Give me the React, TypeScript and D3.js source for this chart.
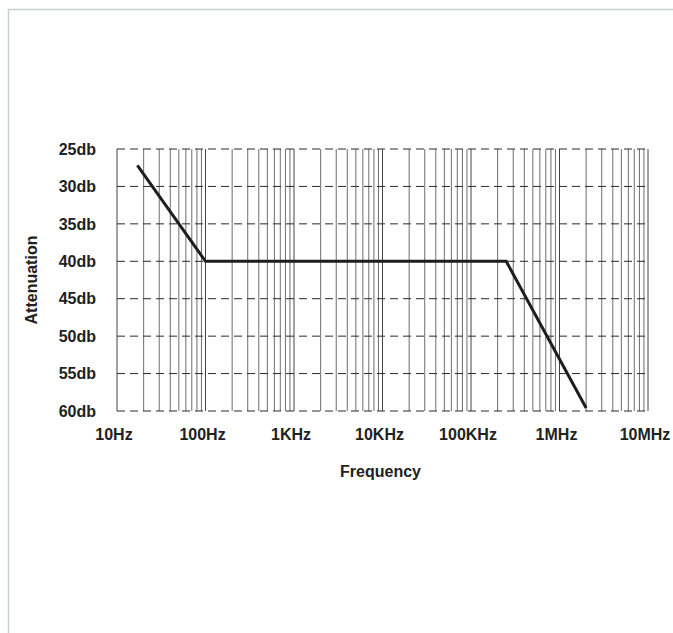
import React from "react";
import * as d3 from "d3";

const freqs = [17, 100, 250000, 2000000];
const attenuation = [27.2, 40, 40, 59.6];
const yTicks = [25, 30, 35, 40, 45, 50, 55, 60];
const xTickValues = [10, 100, 1000, 10000, 100000, 1000000, 10000000];
const xTickLabels = ["10Hz", "100Hz", "1KHz", "10KHz", "100KHz", "1MHz", "10MHz"];

const W = 673;
const H = 633;
const left = 117;
const right = 648;
const top = 149;
const bottom = 411;

export default function App() {
  const x = d3.scaleLog().domain([10, 10000000]).range([left, right]);
  const y = d3.scaleLinear().domain([25, 60]).range([top, bottom]);

  const minor: number[] = [];
  for (let e = 1; e <= 6; e++) {
    for (let m = 2; m <= 9; m++) minor.push(m * Math.pow(10, e));
  }

  const line = d3
    .line<number>()
    .x((_, i) => x(freqs[i]))
    .y((d) => y(d));

  const font = "'Liberation Sans', Arial, Helvetica, sans-serif";

  return (
    <svg
      width={W}
      height={H}
      style={{ position: "fixed", left: 0, top: 0, background: "#fff" }}
      fontFamily={font}
    >
      <rect x={0} y={0} width={W} height={H} fill="#fff" />
      <rect x={8.5} y={9.5} width={800} height={800} fill="none" stroke="#c3d1d4" strokeWidth={1.5} />

      {minor.map((v, i) => (
        <line key={"mn" + i} x1={x(v)} x2={x(v)} y1={top} y2={bottom} stroke="#6e6e6e" strokeWidth={1} />
      ))}
      {xTickValues.map((v, i) => (
        <line key={"mj" + i} x1={x(v)} x2={x(v)} y1={top} y2={bottom} stroke="#444" strokeWidth={1} />
      ))}
      {yTicks.map((v, i) => (
        <line
          key={"h" + i}
          x1={left}
          x2={right}
          y1={y(v)}
          y2={y(v)}
          stroke="#2a2a2a"
          strokeWidth={1}
          strokeDasharray="8,5"
        />
      ))}

      <path d={line(attenuation) || ""} fill="none" stroke="#1e1e1e" strokeWidth={3} strokeLinejoin="miter" />

      {yTicks.map((v, i) => (
        <text key={"yl" + i} x={96} y={y(v)} dy="0.36em" textAnchor="end" fontSize={16} fontWeight="bold" fill="#222">
          {v}db
        </text>
      ))}
      {xTickValues.map((v, i) => (
        <text key={"xl" + i} x={x(v) - 3} y={440} textAnchor="middle" fontSize={16} fontWeight="bold" fill="#222">
          {xTickLabels[i]}
        </text>
      ))}

      <text x={(left + right) / 2 - 2} y={477} textAnchor="middle" fontSize={16} fontWeight="bold" fill="#222">
        Frequency
      </text>
      <text
        transform={`translate(37,${(top + bottom) / 2}) rotate(-90)`}
        textAnchor="middle"
        fontSize={16}
        fontWeight="bold"
        fill="#222"
      >
        Attenuation
      </text>
    </svg>
  );
}
